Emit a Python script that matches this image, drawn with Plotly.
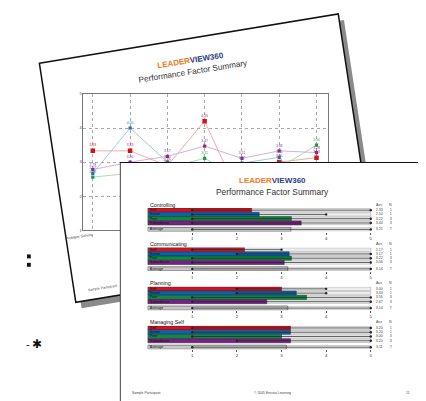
import plotly.graph_objects as go

W, H = 426, 401
def X(p): return p / W
def Y(p): return 1 - p / H

# ---------------- data: front page (rater summary bars) ----------------
groups = ["Controlling", "Communicating", "Planning", "Managing Self"]
raters = ["Self", "Senior", "Peer", "Subordinate", "Average"]
rater_n = [1, 1, 3, 3, 7]
controlling_avg = [2.33, 2.50, 3.22, 3.44, 3.21]
communicating_avg = [2.17, 3.17, 3.22, 3.06, 3.14]
planning_avg = [3.00, 3.33, 3.56, 2.67, 3.14]
managing_avg = [3.20, 3.20, 3.00, 3.20, 3.11]
controlling_min = [1, 1, 1, 1, 1]
controlling_max = [5, 4, 5, 5, 5]
communicating_min = [1, 2, 1, 1, 1]
communicating_max = [3, 5, 5, 5, 5]
planning_min = [2, 2, 1, 1, 1]
planning_max = [4, 4, 5, 5, 5]
managing_min = [1, 1, 1, 2, 1]
managing_max = [5, 5, 5, 5, 5]
scale_ticks = [1, 2, 3, 4, 5]

# ---------------- data: back page (line chart) ----------------
back_categories = ["Problem Solving", "", "", "", "", "", ""]
back_self = [3.33, 3.33, 2.89, 4.20, 1.83, 3.00, 3.13]
back_senior = [2.67, 4.00, 3.00, 2.20, 2.97, 3.14, 2.00]
back_peer = [2.56, 2.67, 2.83, 3.11, 2.50, 2.83, 3.50]
back_subordinate = [2.78, 3.00, 3.17, 3.47, 3.11, 3.33, 3.28]
back_ticks = [1, 2, 3, 4, 5]

# ---------------- styling ----------------
FONT = "Liberation Sans, Arial, sans-serif"
front_colors = ["#cc1424", "#0a63ad", "#0a8a43", "#7a1f86", "#c6c6c6"]
back_marker_colors = ["#d0121b", "#1f6fb8", "#1a9a4a", "#8a2a90"]
back_line_colors = ["#eba3a3", "#97bfe2", "#9fd8ae", "#cfa6d8"]
row_pos = [4, 3, 2, 1, -0.5]
group_header_px = [196, 236, 275.7, 315.3]

fig = go.Figure()

# ---------- back page line chart (subplot xy) ----------
back_x = list(range(1, len(back_categories) + 1))
back_series = [back_self, back_senior, back_peer, back_subordinate]
for i, vals in enumerate(back_series):
    fig.add_trace(go.Scatter(
        x=back_x, y=vals, xaxis="x", yaxis="y",
        mode="lines+markers+text",
        text=[f"{v:.2f}" for v in vals], textposition="top center",
        textfont=dict(size=3.4, color=back_marker_colors[i], family=FONT),
        line=dict(color=back_line_colors[i], width=0.9),
        marker=dict(symbol="square", size=4.5 if i == 0 else 3.2,
                    color=back_marker_colors[i]),
        showlegend=False, hoverinfo="skip"))

# ---------- front sheet: a white panel filling its own unit frame (x2y2) ----------
fig.add_trace(go.Scatter(
    x=[0, 1, 1, 0, 0], y=[0, 0, 1, 1, 0], xaxis="x2", yaxis="y2",
    mode="lines", fill="toself", fillcolor="white",
    line=dict(color="#111", width=1.6),
    showlegend=False, hoverinfo="skip"))

# ---------- front page bar groups (subplots x3..x6) ----------
group_avgs = [controlling_avg, communicating_avg, planning_avg, managing_avg]
group_mins = [controlling_min, communicating_min, planning_min, managing_min]
group_maxs = [controlling_max, communicating_max, planning_max, managing_max]

for g in range(len(groups)):
    xa, ya = f"x{g+3}", f"y{g+3}"
    avgs, mins, maxs = group_avgs[g], group_mins[g], group_maxs[g]
    # background scale band to the maximum scale value
    fig.add_trace(go.Bar(
        x=[max(scale_ticks)] * len(raters), y=row_pos, base=0, orientation="h",
        width=0.8, xaxis=xa, yaxis=ya,
        marker=dict(color="#ededed", line=dict(color="#a0a0a0", width=0.5)),
        showlegend=False, hoverinfo="skip"))
    # average score bars
    fig.add_trace(go.Bar(
        x=avgs, y=row_pos, base=0, orientation="h", width=0.97,
        xaxis=xa, yaxis=ya,
        marker=dict(color=front_colors, line=dict(color="#2a2a2a", width=0.5)),
        showlegend=False, hoverinfo="skip"))
    # min-max range lines
    lx, ly = [], []
    for r in range(len(raters)):
        lx += [mins[r], maxs[r], None]
        ly += [row_pos[r], row_pos[r], None]
    fig.add_trace(go.Scatter(
        x=lx, y=ly, xaxis=xa, yaxis=ya, mode="lines+markers",
        line=dict(color="#222", width=0.7),
        marker=dict(size=2.4, color="#222", symbol="circle"),
        showlegend=False, hoverinfo="skip"))
    # rater names inside bars
    fig.add_trace(go.Scatter(
        x=[0.05] * len(raters), y=row_pos, xaxis=xa, yaxis=ya, mode="text",
        text=raters, textposition="middle right",
        textfont=dict(size=3.6, color="#111", family=FONT),
        showlegend=False, hoverinfo="skip"))
    # Avs and N columns
    fig.add_trace(go.Scatter(
        x=[5.19] * len(raters), y=row_pos, xaxis=xa, yaxis=ya, mode="text",
        text=[f"{v:.2f}" for v in avgs], textposition="middle center",
        textfont=dict(size=3.6, color="#444", family=FONT),
        showlegend=False, hoverinfo="skip"))
    fig.add_trace(go.Scatter(
        x=[5.45] * len(raters), y=row_pos, xaxis=xa, yaxis=ya, mode="text",
        text=[str(n) for n in rater_n], textposition="middle center",
        textfont=dict(size=3.6, color="#444", family=FONT),
        showlegend=False, hoverinfo="skip"))

# ---------------- layout ----------------
layout = dict(
    width=W, height=H, margin=dict(l=0, r=0, t=0, b=0),
    paper_bgcolor="white", plot_bgcolor="rgba(0,0,0,0)",
    showlegend=False, barmode="overlay",
    font=dict(family=FONT, color="#222"),
)

grid_common = dict(showgrid=True, gridcolor="#a8a8a8", griddash="dot", gridwidth=0.6,
                   showline=True, mirror=True, linecolor="#777", linewidth=0.7,
                   zeroline=False, ticks="")
layout["xaxis"] = dict(domain=[X(60), X(315)], range=[0.75, 7.3], anchor="y",
                       tickvals=back_x, ticktext=back_categories, tickangle=-9,
                       tickfont=dict(size=3.8, color="#444"), **grid_common)
layout["yaxis"] = dict(domain=[Y(222), Y(84)], range=[1, 5], anchor="x",
                       tickvals=back_ticks, tickfont=dict(size=4, color="#444"),
                       **grid_common)

sheet = dict(showline=False, showgrid=False, zeroline=False, showticklabels=False,
             ticks="", range=[0, 1], fixedrange=True)
layout["xaxis2"] = dict(domain=[X(98), X(415)], anchor="y2", **sheet)
layout["yaxis2"] = dict(domain=[Y(398), Y(153)], anchor="x2", **sheet)

unit_px = 46.6
for g, h in enumerate(group_header_px):
    k = g + 3
    layout[f"xaxis{k}"] = dict(
        domain=[X(127), X(127 + 5.6 * unit_px)], range=[0, 5.6], anchor=f"y{k}",
        tickvals=scale_ticks, ticks="outside", ticklen=2, tickwidth=0.5,
        tickcolor="#555", tickfont=dict(size=4.3, color="#333"),
        showgrid=False, zeroline=False, showline=False)
    layout[f"yaxis{k}"] = dict(
        domain=[Y(h + 27.3), Y(h + 3.5)], range=[-1.0, 4.5], anchor=f"x{k}",
        showticklabels=False, showgrid=False, zeroline=False, ticks="")

# ---------------- shapes (paper sheets & shadows) ----------------
def poly(pts):
    return "M " + " L ".join(f"{X(a):.5f},{Y(b):.5f}" for a, b in pts) + " Z"

back_page = [(14, 53), (326, 3), (364, 245), (52, 295)]
back_shadow = [(a + 6, b + 6) for a, b in back_page]
shapes = [
    dict(type="path", xref="paper", yref="paper", path=poly(back_shadow),
         fillcolor="#8a8a8a", line=dict(width=0), layer="below"),
    dict(type="path", xref="paper", yref="paper", path=poly(back_page),
         fillcolor="white", line=dict(color="#111", width=1.5), layer="below"),
    dict(type="rect", xref="paper", yref="paper", x0=X(105), x1=X(423),
         y0=Y(403), y1=Y(158), fillcolor="#767676", line=dict(width=0), layer="below"),
    dict(type="rect", xref="paper", yref="paper", x0=X(1), x1=X(5),
         y0=Y(250.5), y1=Y(246.5), fillcolor="#111", line=dict(width=0)),
    dict(type="rect", xref="paper", yref="paper", x0=X(1), x1=X(5),
         y0=Y(259), y1=Y(255), fillcolor="#111", line=dict(width=0)),
]
layout["shapes"] = shapes

logo = ("<b><span style='color:#f47b20'>LEADER</span>"
        "<span style='color:#2b3a85'>VIEW360</span></b>")

def ann(x, y, text, size, color="#222", xanchor="center", angle=0, family=FONT):
    return dict(x=X(x), y=Y(y), xref="paper", yref="paper", text=text,
                showarrow=False, xanchor=xanchor, yanchor="middle",
                textangle=angle, font=dict(size=size, color=color, family=family))

annotations = [
    # back page
    ann(172, 50, logo, 8, angle=-9),
    ann(175, 61, "Performance Factor Summary", 8.2, "#333", angle=-9),
    ann(80, 281, "Sample Participant", 3.5, "#444", angle=-9),
    # front page
    ann(257, 172, logo, 8),
    ann(257, 183, "Performance Factor Summary", 8.4, "#333"),
    ann(126, 387, "Sample Participant", 3.4, "#444"),
    ann(257, 387, "© 2005 Envisia Learning", 3.4, "#444"),
    ann(399, 387, "11", 3.4, "#444"),
    # left margin bullets
    ann(2, 337, "-", 11, "#111"),
    ann(12, 337, "✱", 12, "#111", family="DejaVu Sans"),
]
for g, h in enumerate(group_header_px):
    annotations.append(ann(127, h, groups[g], 5.3, "#111", xanchor="left"))
    annotations.append(ann(127 + 5.19 * unit_px, h, "Avs", 3.6, "#444"))
    annotations.append(ann(127 + 5.45 * unit_px, h, "N", 3.6, "#444"))
layout["annotations"] = annotations

fig.update_layout(**layout)
fig.write_html("out.html")
